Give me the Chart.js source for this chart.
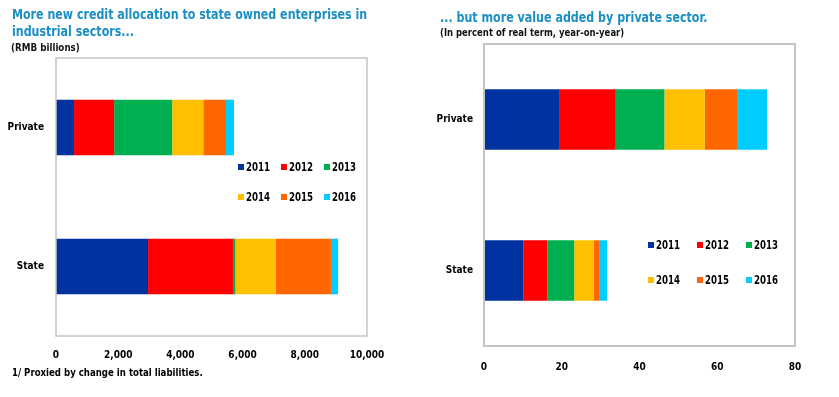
<!DOCTYPE html>
<html>
<head>
<meta charset="utf-8">
<script src="https://cdn.jsdelivr.net/npm/chart.js@4.4.1/dist/chart.umd.min.js"></script>
<style>
  html, body { margin: 0; padding: 0; background: #fff; }
  body { width: 839px; height: 397px; position: relative; overflow: hidden;
         font-family: 'DejaVu Sans Condensed', 'DejaVu Sans', sans-serif; }
  .panel { position: absolute; top: 0; height: 397px; }
  .panel canvas { position: absolute; left: 0; top: 0; }
  .fit { position: absolute; white-space: nowrap; transform-origin: 0 0; }
  .title { color: #1b8fc3; font-weight: bold; font-size: 14px; line-height: 17px; }
  .sub { color: #111; font-weight: bold; font-size: 10px; }
  .note { color: #000; font-weight: bold; font-size: 11px; }
  .legend { position: absolute; display: grid; font-weight: bold; font-size: 12px; color: #000; }
  .legend .item { display: flex; align-items: center; height: 14px; white-space: nowrap; }
  .legend .box { width: 6px; height: 6px; margin-right: 2px; flex: none; }
  .legend .lbl { display: inline-block; transform-origin: 0 50%; }
</style>
</head>
<body>
<div class="panel" style="left:0;width:420px"><canvas id="creditChart" width="420" height="397"></canvas></div>
<div class="panel" style="left:420px;width:419px"><canvas id="valueChart" width="419" height="397"></canvas></div>

<div class="fit title" data-w="355" data-group="t1" style="left:12px;top:6px">More new credit allocation to state owned enterprises in</div>
<div class="fit title" data-group="t1" style="left:12px;top:23px">industrial sectors...</div>
<div class="fit sub" data-w="69" style="left:11px;top:42px">(RMB billions)</div>
<div class="fit note" data-w="191" style="left:12px;top:366px">1/ Proxied by change in total liabilities.</div>

<div class="fit title" data-w="267" style="left:440px;top:9px">... but more value added by private sector.</div>
<div class="fit sub" data-w="184" style="left:440px;top:27px">(In percent of real term, year-on-year)</div>

<div class="legend" id="legendLeft" style="left:238px;top:160px;grid-template-columns:43px 43px 43px;row-gap:16px"></div>
<div class="legend" id="legendRight" style="left:648px;top:238px;grid-template-columns:49px 49px 49px;row-gap:21px"></div>

<script>
const sectors = ['Private', 'State'];
const years = ['2011', '2012', '2013', '2014', '2015', '2016'];
const yearColors = ['#0033a0', '#ff0000', '#00b050', '#ffc000', '#ff6600', '#00ccff'];

// new credit, RMB billions
const credit2011 = [580, 2960];
const credit2012 = [1290, 2730];
const credit2013 = [1865, 80];
const credit2014 = [1000, 1300];
const credit2015 = [730, 1770];
const credit2016 = [260, 230];

// value added, percent yoy
const value2011 = [19.5, 10.1];
const value2012 = [14.4, 6.2];
const value2013 = [12.5, 6.9];
const value2014 = [10.4, 5.0];
const value2015 = [8.5, 1.4];
const value2016 = [7.5, 2.1];

const creditTicks = [0, 2000, 4000, 6000, 8000, 10000];
const valueTicks = [0, 20, 40, 60, 80];

const FONT = "'DejaVu Sans Condensed', 'DejaVu Sans', sans-serif";

const plotBorder = {
  id: 'plotBorder',
  afterDraw(chart) {
    const a = chart.chartArea;
    const ctx = chart.ctx;
    ctx.save();
    ctx.strokeStyle = '#c4c4c4';
    ctx.lineWidth = chart.options.plugins.plotBorder.width;
    ctx.strokeRect(a.left, a.top, a.right - a.left, a.bottom - a.top);
    ctx.restore();
  },
};

// squeeze text horizontally to the width it has in the reference
function fitText() {
  const groups = {};
  document.querySelectorAll('.fit').forEach(el => {
    const w = el.dataset.w;
    const g = el.dataset.group;
    if (w) {
      const r = Number(w) / el.scrollWidth;
      el.style.transform = `scaleX(${r})`;
      if (g) groups[g] = r;
    }
  });
  document.querySelectorAll('.fit').forEach(el => {
    const g = el.dataset.group;
    if (!el.dataset.w && g && groups[g]) el.style.transform = `scaleX(${groups[g]})`;
  });
}

function buildLegend(el) {
  years.forEach((y, i) => {
    const item = document.createElement('div');
    item.className = 'item';
    item.innerHTML = `<span class="box" style="background:${yearColors[i]}"></span><span class="lbl">${y}</span>`;
    el.appendChild(item);
    const lbl = item.querySelector('.lbl');
    lbl.style.transform = `scaleX(${24 / lbl.getBoundingClientRect().width})`;
  });
}

function makeChart(id, series, ticks, opts) {
  const ctx = document.getElementById(id).getContext('2d');
  return new Chart(ctx, {
    type: 'bar',
    data: {
      labels: sectors,
      datasets: series.map((data, i) => ({
        label: years[i],
        data,
        backgroundColor: yearColors[i],
        borderWidth: 0,
        barPercentage: 1,
        categoryPercentage: 0.4,
      })),
    },
    options: {
      indexAxis: 'y',
      responsive: false,
      animation: false,
      devicePixelRatio: 1,
      layout: { padding: { top: opts.top, right: opts.right, left: 0, bottom: 0 } },
      scales: {
        x: {
          stacked: true,
          min: ticks[0],
          max: ticks[ticks.length - 1],
          afterBuildTicks: s => { s.ticks = ticks.map(v => ({ value: v })); },
          afterFit: s => { s.height = opts.xHeight; },
          grid: { display: false, drawTicks: false },
          border: { display: false },
          ticks: {
            padding: opts.xPad,
            color: '#000',
            font: { family: FONT, size: 10, weight: 'bold' },
            callback: v => v.toLocaleString('en-US'),
          },
        },
        y: {
          stacked: true,
          afterFit: s => { s.width = opts.yWidth; },
          grid: { display: false, drawTicks: false },
          border: { display: false },
          ticks: {
            padding: opts.yPad,
            color: '#000',
            font: { family: FONT, size: 10, weight: 'bold' },
          },
        },
      },
      plugins: {
        legend: { display: false },
        tooltip: { enabled: false },
        plotBorder: { width: opts.border },
      },
    },
    plugins: [plotBorder],
  });
}

fitText();
buildLegend(document.getElementById('legendLeft'));
buildLegend(document.getElementById('legendRight'));

makeChart('creditChart',
  [credit2011, credit2012, credit2013, credit2014, credit2015, credit2016],
  creditTicks,
  { top: 58, right: 53, xHeight: 61, yWidth: 56, xPad: 13, yPad: 12, border: 1.5 });

makeChart('valueChart',
  [value2011, value2012, value2013, value2014, value2015, value2016],
  valueTicks,
  { top: 44, right: 44, xHeight: 51, yWidth: 64, xPad: 15, yPad: 11, border: 2 });
</script>
</body>
</html>
